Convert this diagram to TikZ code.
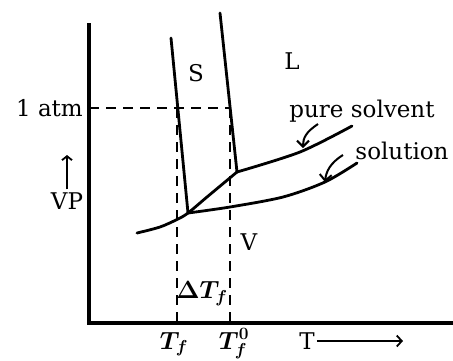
\documentclass[tikz,border=0pt]{standalone}
\usepackage{fontspec}
\setmainfont{DejaVu Serif}
\usepackage{amsmath,bm}
\usetikzlibrary{arrows.meta}

\begin{document}
\begin{tikzpicture}[x=1pt, y=-1pt,
  axis/.style={line width=3.2pt},
  curve/.style={line width=2.8pt, line cap=round, line join=round},
  guide/.style={line width=2.6pt, dash pattern=on 10pt off 7pt},
  label/.style={font=\fontsize{23}{27}\selectfont, inner sep=0pt},
  pointer/.style={line width=2pt, -{Straight Barb[length=6pt,width=12pt]}}
]
  \useasboundingbox (0,0) rectangle (453,360);
  \coordinate (o) at (89,323);
  \coordinate (top) at (89,23);
  \coordinate (right) at (453,323);
  \coordinate (atm) at (89,108);
  \coordinate (sa) at (171,38);
  \coordinate (tf) at (188,213);
  \coordinate (pa) at (220,13);
  \coordinate (tp) at (237,172);
  \coordinate (sub) at (137,233);
  \coordinate (pend) at (352,126);
  \coordinate (send) at (357,163);
  \coordinate (atmsol) at (177,108);
  \coordinate (atmpure) at (230,108);
  \coordinate (tfax) at (177,323);
  \coordinate (tpax) at (230,323);

  \draw[axis] (top) -- (o) -- (right);
  \draw[guide] (atm) -- (atmpure);
  \draw[guide] (atmsol) -- (tfax);
  \draw[guide] (atmpure) -- (tpax);

  \draw[curve] (sa) -- (tf);
  \draw[curve] (pa) -- (tp);
  \draw[curve] plot[smooth] coordinates {(sub) (160,227) (178,219) (tf) (207,197) (tp)};
  \draw[curve] plot[smooth] coordinates {(tp) (300,152) (pend)};
  \draw[curve] plot[smooth] coordinates {(tf) (230,207) (283,197) (325,182) (send)};

  \node[label, anchor=east] (atmlabel) at (83,108) {1 atm};
  \node[label] (vp) at (67,201) {VP};
  \coordinate (vpup) at (67,155);
  \draw[line width=1.8pt, -{Straight Barb[length=4pt,width=10pt]}] (vp.north) ++(0,-3) -- (vpup);
  \node[label] (s) at (196,73) {S};
  \node[label] (l) at (292,61) {L};
  \node[label] (v) at (249,242) {V};
  \node[label] (pure) at (362,111) {pure solvent};
  \node[label] (soln) at (402,151) {solution};
  \node[label] (dtf) at (202,294) {$\bm{\Delta T_f}$};
  \node[label, anchor=base] (tflabel) at (174,349) {$\bm{T_f}$};
  \node[label, anchor=base] (tplabel) at (234,349) {$\bm{T_f^0}$};
  \node[label] (tlabel) at (307,341) {T};
  \coordinate (tarrow) at (403,341);
  \draw[line width=1.8pt, -{Straight Barb[length=5pt,width=11pt]}] (tlabel.east) ++(2,0) -- (tarrow);

  \coordinate (pp) at (303,148);
  \coordinate (sp) at (325,182);
  \draw[pointer] (318,124) .. controls (306,132) and (303,138) .. (pp);
  \draw[pointer] (343,155) .. controls (330,163) and (326,172) .. (sp);
\end{tikzpicture}
\end{document}
